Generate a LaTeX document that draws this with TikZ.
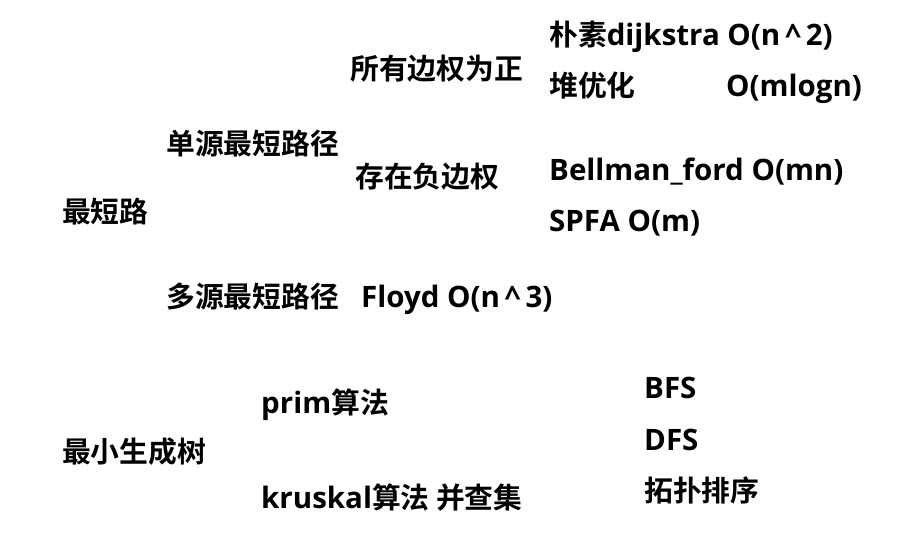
\documentclass[tikz,border=0pt]{standalone}
\usepackage{fontspec}
\setmainfont{Open Sans}[BoldFont={* Bold}]
\newfontfamily\cjkfont{Noto Sans CJK SC}[BoldFont={* Bold}]
\newcommand{\cj}[1]{{\cjkfont\fontsize{28.8}{32}\selectfont #1}}
\begin{document}
\begin{tikzpicture}[x=1pt,y=-1pt,
  lbl/.style={anchor=base west,inner sep=0pt,font=\fontsize{29.5}{33}\selectfont\bfseries}]
\useasboundingbox[fill=white] (0,0) rectangle (914,543);
\node[lbl] (root1) at (62,222) {\cj{最短路}};
\node[lbl] (ss) at (166,154) {\cj{单源最短路径}};
\node[lbl] (ms) at (166,307) {\cj{多源最短路径}};
\node[lbl] (pos) at (350,80) {\cj{所有边权为正}};
\node[lbl] (neg) at (355,187) {\cj{存在负边权}};
\node[lbl] (floyd) at (361,307) {Floyd O(n\,\textasciicircum\,3)};
\node[lbl] (dij) at (549,46) {\cj{朴素}dijkstra O(n\,\textasciicircum\,2)};
\node[lbl] (heap) at (549,97) {\cj{堆优化}};
\node[lbl] (mlogn) at (726,97) {O(mlogn)};
\node[lbl] (bf) at (549,180) {Bellman\_ford O(mn)};
\node[lbl] (spfa) at (549,231) {SPFA O(m)};
\node[lbl] (root2) at (62,462) {\cj{最小生成树}};
\node[lbl] (prim) at (261,413) {prim\cj{算法}};
\node[lbl] (krus) at (261,508) {kruskal\cj{算法 并查集}};
\node[lbl] (bfs) at (644,398) {BFS};
\node[lbl] (dfs) at (644,450) {DFS};
\node[lbl] (topo) at (644,501) {\cj{拓扑排序}};
\end{tikzpicture}
\end{document}
